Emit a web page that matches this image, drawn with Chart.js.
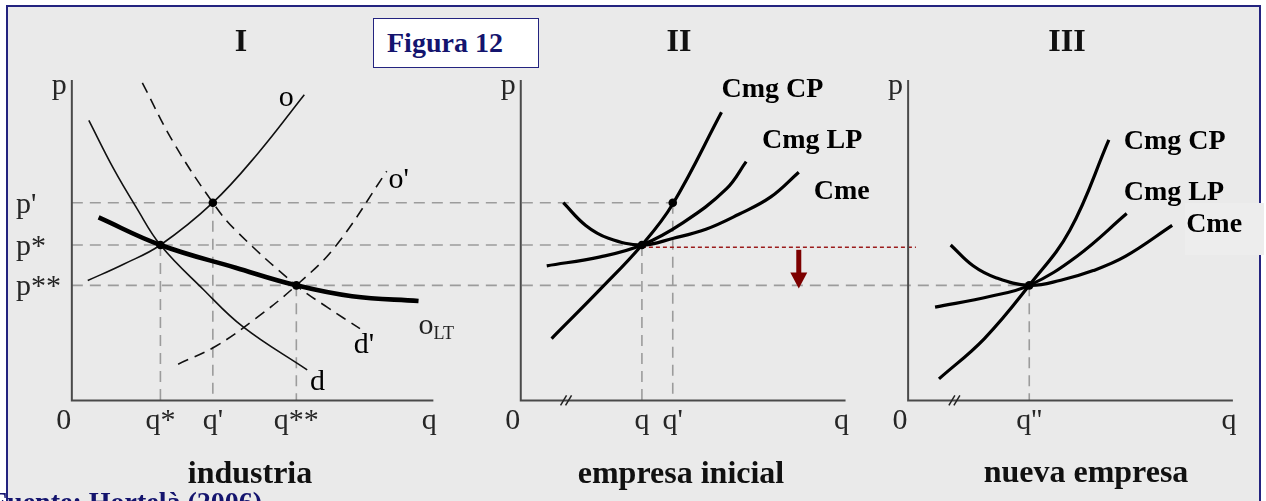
<!DOCTYPE html>
<html>
<head>
<meta charset="utf-8">
<script src="https://cdn.jsdelivr.net/npm/chart.js@4.4.1/dist/chart.umd.min.js"></script>
<style>
body { margin: 0; background: #fff; }
#page { position: relative; width: 1266px; height: 501px; overflow: hidden; font-family: "Liberation Serif", "Times New Roman", serif; }
#frame { position: absolute; left: 6px; top: 5px; width: 1251px; height: 540px; background: #eaeaea; border: 2px solid #23237f; }
#patch { position: absolute; left: 1185px; top: 203px; width: 79px; height: 52px; background: #ededed; }
#fig { position: absolute; left: 0; top: 0; }
.cap { position: absolute; font-weight: bold; font-size: 32px; line-height: 32px; white-space: nowrap; transform: translateX(-50%); color: #111; }
#figbox { position: absolute; left: 373px; top: 18px; width: 166px; height: 50px; box-sizing: border-box; background: #fff; border: 1.5px solid #23237f; }
#figbox span { position: absolute; left: 13px; top: 10px; font-size: 28px; line-height: 28px; font-weight: bold; color: #14146e; white-space: nowrap; }
#fuente { position: absolute; left: -10px; top: 488px; font-size: 28px; line-height: 28px; font-weight: bold; color: #14146e; white-space: nowrap; }
</style>
</head>
<body>
<div id="page">
  <div id="frame"></div>
  <div id="patch"></div>
  <canvas id="fig" width="1266" height="501"></canvas>
  <div id="figbox"><span>Figura 12</span></div>
  <div class="cap" style="left:241px;top:24px">I</div>
  <div class="cap" style="left:679px;top:24px">II</div>
  <div class="cap" style="left:1067px;top:24px">III</div>
  <div class="cap" style="left:250px;top:456px">industria</div>
  <div class="cap" style="left:681px;top:456px">empresa inicial</div>
  <div class="cap" style="left:1086px;top:455px">nueva empresa</div>
  <div id="fuente">Fuente: Hortelà (2006)</div>
</div>
<script>
/* equilibrium values (q and p on a 0-10 scale per panel) */
const pPrime = 6.17, pStar = 4.85, pStar2 = 3.59;
const qStar = 2.45, qPrime = 3.9, qStar2 = 6.21;     // industria
const qFirm = 3.73, qFirmPrime = 4.68;               // empresa inicial
const qNew = 3.73;                                   // nueva empresa
const pDrop = 4.78;                                  // red dotted level

/****** panel I: industria ******/
const oQ = [0.44, 1.43, 2.45, 3.9, 5.14, 6.43];
const oP = [3.74, 4.25, 4.85, 6.17, 7.7, 9.54];
const dQ = [0.47, 1.15, 1.79, 2.45, 3.63, 4.73, 6.51];
const dP = [8.74, 7.24, 6.01, 4.85, 3.47, 2.3, 0.95];
const d2Q = [1.95, 2.8, 3.9, 4.53, 6.21, 7.06, 7.97];
const d2P = [9.91, 8.07, 6.17, 5.31, 3.59, 2.91, 2.24];
const o2Q = [2.94, 3.98, 5.08, 6.21, 7.28, 8.71];
const o2P = [1.13, 1.69, 2.55, 3.59, 4.79, 7.15];
const oltQ = [0.74, 2.45, 4.53, 6.21, 7.75, 9.59];
const oltP = [5.71, 4.85, 4.14, 3.59, 3.25, 3.1];

/****** panel II: empresa inicial ******/
const cpQ2 = [0.95, 2.45, 3.73, 4.68, 6.18];
const cpP2 = [1.93, 3.47, 4.85, 6.13, 8.99];
const lpQ2 = [0.8, 2.45, 3.73, 5.0, 6.33, 6.94];
const lpP2 = [4.2, 4.48, 4.85, 5.55, 6.6, 7.45];
const cmeQ2 = [1.31, 2.0, 2.7, 3.73, 4.7, 5.7, 6.7, 7.7, 8.56];
const cmeP2 = [6.17, 5.46, 5.06, 4.85, 5.06, 5.34, 5.8, 6.35, 7.12];

/****** panel III: nueva empresa ******/
const cpQ3 = [0.95, 2.35, 3.73, 4.98, 6.18];
const cpP3 = [0.67, 1.93, 3.59, 5.31, 8.13];
const lpQ3 = [0.83, 2.54, 3.73, 5.2, 6.73];
const lpP3 = [2.91, 3.25, 3.59, 4.5, 5.83];
const cmeQ3 = [1.31, 2.0, 2.7, 3.73, 4.7, 5.7, 6.7, 8.13];
const cmeP3 = [4.85, 4.2, 3.83, 3.59, 3.75, 4.05, 4.5, 5.46];

/* tick labels */
const qTicks1 = [0, qStar, qPrime, qStar2, 10];
const qLabels1 = ['0', 'q*', "q'", 'q**', 'q'];
const qTicks2 = [0, qFirm, qFirmPrime, 10];
const qLabels2 = ['0', 'q', "q'", 'q'];
const qTicks3 = [0, qNew, 10];
const qLabels3 = ['0', "q''", 'q'];
const pTicks = [pPrime, pStar, pStar2];
const pLabels = ["p'", 'p*', 'p**'];

const axisQ = [0, 0, 10];
const axisP = [10, 0, 0];

function pts(qs, ps) {
    return qs.map((q, i) => ({ x: q, y: ps[i] }));
}

/* where each panel sits on the canvas (pixels for q=0 and q=10, p=0 and p=10) */
const W = 1266, H = 501;
function xRange(px0, px10) {
    const per = (px10 - px0) / 10;
    const min = -px0 / per;
    return { min: min, max: min + W / per };
}
const yPer = (403 - 77) / 10;
const yMax = 403 / yPer;
const yMin = yMax - H / yPer;

const thin = { borderColor: '#111', borderWidth: 1.6 };
const dashed = { borderColor: '#111', borderWidth: 1.6, borderDash: [11, 7] };
const thick = { borderColor: '#000', borderWidth: 3.2 };
const axisStyle = { borderColor: '#4a4a4a', borderWidth: 2, tension: 0 };

function curve(qs, ps, xAxis, style) {
    return Object.assign({
        data: pts(qs, ps),
        xAxisID: xAxis,
        yAxisID: 'y',
        showLine: true,
        pointRadius: 0,
        tension: 0.4,
        fill: false
    }, style);
}

function dots(list, xAxis) {
    return {
        data: list,
        xAxisID: xAxis,
        yAxisID: 'y',
        showLine: false,
        pointRadius: 4.3,
        pointBackgroundColor: '#000',
        pointBorderWidth: 0
    };
}

const datasets = [
    dots([{ x: qStar, y: pStar }, { x: qPrime, y: pPrime }, { x: qStar2, y: pStar2 }], 'x1'),
    dots([{ x: qFirmPrime, y: pPrime }, { x: qFirm, y: pStar }], 'x2'),
    dots([{ x: qNew, y: pStar2 }], 'x3'),
    curve(oQ, oP, 'x1', thin),
    curve(dQ, dP, 'x1', thin),
    curve(d2Q, d2P, 'x1', dashed),
    curve(o2Q, o2P, 'x1', dashed),
    curve(oltQ, oltP, 'x1', { borderColor: '#000', borderWidth: 4.6 }),
    curve(cpQ2, cpP2, 'x2', thick),
    curve(lpQ2, lpP2, 'x2', thick),
    curve(cmeQ2, cmeP2, 'x2', thick),
    curve(cpQ3, cpP3, 'x3', thick),
    curve(lpQ3, lpP3, 'x3', thick),
    curve(cmeQ3, cmeP3, 'x3', thick),
    curve(axisQ, axisP, 'x1', axisStyle),
    curve(axisQ, axisP, 'x2', axisStyle),
    curve(axisQ, axisP, 'x3', axisStyle)
];

/* dashed guide lines: [from axis, q, to axis, q, p] for horizontals */
const hGuides = [
    ['x1', 0, 'x2', qFirmPrime, pPrime],
    ['x1', 0, 'x2', qFirm, pStar],
    ['x1', 0, 'x3', qNew, pStar2]
];
/* verticals: [axis, q, p top] */
const vGuides = [
    ['x1', qStar, pStar], ['x1', qPrime, pPrime], ['x1', qStar2, pStar2],
    ['x2', qFirm, pStar], ['x2', qFirmPrime, pPrime],
    ['x3', qNew, pStar2]
];

/* curve labels: [axis, q, p, text, bold, align] */
const curveLabels = [
    ['x1', 5.93, 9.2, 'o', false, 'center'],
    ['x1', 8.76, 6.63, "o'", false, 'left'],
    ['x1', 7.8, 1.47, "d'", false, 'left'],
    ['x1', 6.59, 0.31, 'd', false, 'left'],
    ['x2', 6.18, 9.48, 'Cmg CP', true, 'left'],
    ['x2', 7.43, 7.88, 'Cmg LP', true, 'left'],
    ['x2', 9.02, 6.29, 'Cme', true, 'left'],
    ['x3', 6.64, 7.85, 'Cmg CP', true, 'left'],
    ['x3', 6.64, 6.26, 'Cmg LP', true, 'left'],
    ['x3', 8.56, 5.25, 'Cme', true, 'left']
];

const serif = '"Liberation Serif", "Times New Roman", serif';

const figurePlugin = {
    id: 'figure',
    beforeDatasetsDraw(chart) {
        const ctx = chart.ctx;
        const y = chart.scales.y;
        ctx.save();
        ctx.strokeStyle = '#9c9c9c';
        ctx.lineWidth = 1.6;
        ctx.setLineDash([11, 7]);
        hGuides.forEach(g => {
            const py = y.getPixelForValue(g[4]);
            ctx.beginPath();
            ctx.moveTo(chart.scales[g[0]].getPixelForValue(g[1]), py);
            ctx.lineTo(chart.scales[g[2]].getPixelForValue(g[3]), py);
            ctx.stroke();
        });
        vGuides.forEach(g => {
            const px = chart.scales[g[0]].getPixelForValue(g[1]);
            ctx.beginPath();
            ctx.moveTo(px, y.getPixelForValue(g[2]));
            ctx.lineTo(px, y.getPixelForValue(0));
            ctx.stroke();
        });
        // red dotted line from the initial firm to the new one
        ctx.strokeStyle = '#9b1c1c';
        ctx.lineWidth = 1.5;
        ctx.setLineDash([4, 3]);
        const ry = y.getPixelForValue(pDrop);
        ctx.beginPath();
        ctx.moveTo(chart.scales.x2.getPixelForValue(qFirm), ry);
        ctx.lineTo(chart.scales.x3.getPixelForValue(0.24), ry);
        ctx.stroke();
        ctx.restore();
    },
    afterDatasetsDraw(chart) {
        const ctx = chart.ctx;
        const y = chart.scales.y;
        ctx.save();

        // arrow: price falls from p* to p**
        const ax = chart.scales.x2.getPixelForValue(8.56);
        const aTop = y.getPixelForValue(pDrop - 0.08);
        const aTip = y.getPixelForValue(pStar2 - 0.1);
        ctx.fillStyle = '#7d0000';
        ctx.fillRect(ax - 2.5, aTop, 5, aTip - aTop - 14);
        ctx.beginPath();
        ctx.moveTo(ax - 8.5, aTip - 16);
        ctx.lineTo(ax + 8.5, aTip - 16);
        ctx.lineTo(ax, aTip);
        ctx.closePath();
        ctx.fill();

        // axis breaks
        ctx.strokeStyle = '#222';
        ctx.lineWidth = 1.5;
        [['x2', 1.41], ['x3', 1.44]].forEach(b => {
            const bx = chart.scales[b[0]].getPixelForValue(b[1]);
            const by = y.getPixelForValue(0);
            [-3, 2].forEach(dx => {
                ctx.beginPath();
                ctx.moveTo(bx + dx - 3, by + 5);
                ctx.lineTo(bx + dx + 3, by - 5);
                ctx.stroke();
            });
        });

        // tick labels
        ctx.fillStyle = '#262626';
        ctx.font = '30px ' + serif;
        ctx.textBaseline = 'alphabetic';
        const base = y.getPixelForValue(0) + 29;
        [[qTicks1, qLabels1, 'x1'], [qTicks2, qLabels2, 'x2'], [qTicks3, qLabels3, 'x3']].forEach(t => {
            const sc = chart.scales[t[2]];
            t[0].forEach((q, i) => {
                let px = sc.getPixelForValue(q);
                if (q === 0) px -= 8;
                if (q === 10) px -= 4;
                ctx.textAlign = 'center';
                ctx.fillText(t[1][i], px, base);
            });
        });
        ctx.textAlign = 'left';
        pTicks.forEach((p, i) => {
            ctx.fillText(pLabels[i], 16, y.getPixelForValue(p) + 10);
        });
        ctx.textAlign = 'right';
        ['x1', 'x2', 'x3'].forEach(id => {
            ctx.fillText('p', chart.scales[id].getPixelForValue(0) - 5, y.getPixelForValue(10) + 14);
        });

        // curve labels
        ctx.fillStyle = '#000';
        curveLabels.forEach(l => {
            ctx.font = (l[4] ? 'bold 28px ' : '30px ') + serif;
            ctx.textAlign = l[5];
            ctx.fillText(l[3], chart.scales[l[0]].getPixelForValue(l[1]), y.getPixelForValue(l[2]));
        });
        // o with LT subscript
        const lx = chart.scales.x1.getPixelForValue(9.59);
        const ly = y.getPixelForValue(2.06);
        ctx.textAlign = 'left';
        ctx.fillStyle = '#222';
        ctx.font = '30px ' + serif;
        ctx.fillText('o', lx, ly);
        ctx.font = '18px ' + serif;
        ctx.fillText('LT', lx + 15, ly + 5);
        ctx.restore();
    }
};

const r1 = xRange(68, 432), r2 = xRange(520, 847), r3 = xRange(910, 1237);

new Chart(document.getElementById('fig'), {
    type: 'scatter',
    data: { datasets: datasets },
    options: {
        responsive: false,
        animation: false,
        events: [],
        layout: { padding: 0 },
        plugins: { legend: { display: false }, tooltip: { enabled: false } },
        scales: {
            x1: { type: 'linear', display: false, min: r1.min, max: r1.max },
            x2: { type: 'linear', display: false, min: r2.min, max: r2.max },
            x3: { type: 'linear', display: false, min: r3.min, max: r3.max },
            y: { type: 'linear', display: false, min: yMin, max: yMax }
        }
    },
    plugins: [figurePlugin]
});
</script>
</body>
</html>
